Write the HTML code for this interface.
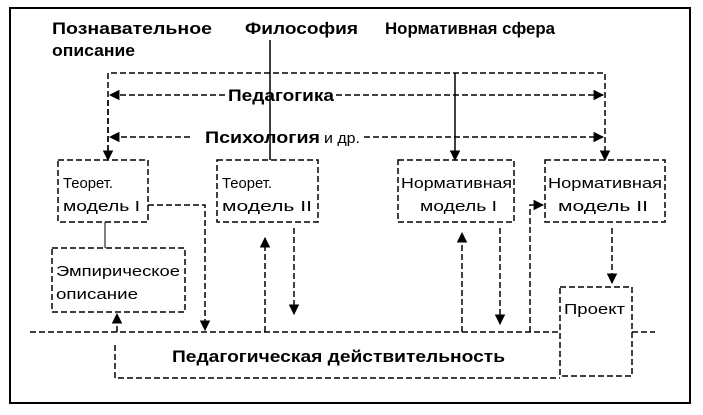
<!DOCTYPE html>
<html><head><meta charset="utf-8"><style>
body{margin:0;background:#fff}
svg{display:block}
text{font-family:"Liberation Sans",sans-serif;fill:#000}
.b{font-weight:bold;font-size:17px}
.n{font-size:15px}
</style></head><body>
<svg width="703" height="415" viewBox="0 0 703 415" xmlns="http://www.w3.org/2000/svg">
<defs>
<marker id="a" viewBox="0 0 10 10" refX="9" refY="5" markerWidth="7" markerHeight="7" orient="auto"><path d="M0,0 L10,5 L0,10 z" fill="#000"/></marker>
</defs>
<rect x="10" y="8" width="680" height="395" fill="none" stroke="#000" stroke-width="2"/>
<text class="b" x="52" y="34" textLength="160" lengthAdjust="spacingAndGlyphs">Познавательное</text>
<text class="b" x="52" y="56" textLength="83" lengthAdjust="spacingAndGlyphs">описание</text>
<text class="b" x="245" y="34" textLength="113" lengthAdjust="spacingAndGlyphs">Философия</text>
<text class="b" x="385" y="34" textLength="170" lengthAdjust="spacingAndGlyphs">Нормативная сфера</text>
<line x1="270" y1="40" x2="270" y2="160" stroke="#000" stroke-width="1.5"/>
<g fill="none" stroke="#000" stroke-width="1.5" stroke-dasharray="6,3">
<polyline points="108,160 108,73 605,73 605,160" marker-end="url(#a)"/>
<line x1="108" y1="100" x2="108" y2="160" marker-end="url(#a)"/>
<line x1="455" y1="73" x2="455" y2="160" stroke-dasharray="none" marker-end="url(#a)"/>
<line x1="225" y1="95" x2="110" y2="95" marker-end="url(#a)"/>
<line x1="336" y1="95" x2="603" y2="95" marker-end="url(#a)"/>
<line x1="190" y1="137" x2="110" y2="137" marker-end="url(#a)"/>
<line x1="364" y1="137" x2="603" y2="137" marker-end="url(#a)"/>
<rect x="58" y="160" width="90" height="62"/>
<rect x="217" y="160" width="101" height="62"/>
<rect x="398" y="160" width="116" height="62"/>
<rect x="545" y="160" width="120" height="62"/>
<rect x="52" y="248" width="133" height="64"/>
<rect x="560" y="287" width="72" height="89"/>
<line x1="30" y1="332" x2="560" y2="332"/>
<line x1="632" y1="332" x2="655" y2="332"/>
<polyline points="115,345 115,378 560,378"/>
<polyline points="148,205 205,205 205,330" marker-end="url(#a)"/>
<line x1="265" y1="332" x2="265" y2="238" marker-end="url(#a)"/>
<line x1="294" y1="228" x2="294" y2="314" marker-end="url(#a)"/>
<line x1="462" y1="332" x2="462" y2="233" marker-end="url(#a)"/>
<line x1="500" y1="228" x2="500" y2="324" marker-end="url(#a)"/>
<polyline points="530,332 530,205 543,205" marker-end="url(#a)"/>
<line x1="612" y1="228" x2="612" y2="283" marker-end="url(#a)"/>
<line x1="117" y1="332" x2="117" y2="314" marker-end="url(#a)"/>
</g>
<line x1="105" y1="222" x2="105" y2="248" stroke="#000" stroke-width="1"/>
<text class="b" x="228" y="101" textLength="106" lengthAdjust="spacingAndGlyphs">Педагогика</text>
<text class="b" x="205" y="143" textLength="115" lengthAdjust="spacingAndGlyphs">Психология</text><text class="n" x="324" y="143" textLength="36" lengthAdjust="spacingAndGlyphs">и др.</text>
<text class="n" x="63" y="188" textLength="50" lengthAdjust="spacingAndGlyphs">Теорет.</text><text class="n" x="63" y="211" textLength="77" lengthAdjust="spacingAndGlyphs">модель I</text>
<text class="n" x="222" y="188" textLength="50" lengthAdjust="spacingAndGlyphs">Теорет.</text><text class="n" x="222" y="211" textLength="90" lengthAdjust="spacingAndGlyphs">модель II</text>
<text class="n" x="401" y="188" textLength="111" lengthAdjust="spacingAndGlyphs">Нормативная</text><text class="n" x="420" y="211" textLength="77" lengthAdjust="spacingAndGlyphs">модель I</text>
<text class="n" x="548" y="188" textLength="114" lengthAdjust="spacingAndGlyphs">Нормативная</text><text class="n" x="558" y="211" textLength="90" lengthAdjust="spacingAndGlyphs">модель II</text>
<text class="n" x="56" y="276" textLength="124" lengthAdjust="spacingAndGlyphs">Эмпирическое</text><text class="n" x="56" y="299" textLength="82" lengthAdjust="spacingAndGlyphs">описание</text>
<text class="n" x="564" y="314" textLength="61" lengthAdjust="spacingAndGlyphs">Проект</text>
<text class="b" x="172" y="362" textLength="333" lengthAdjust="spacingAndGlyphs">Педагогическая действительность</text>
</svg>
</body></html>
